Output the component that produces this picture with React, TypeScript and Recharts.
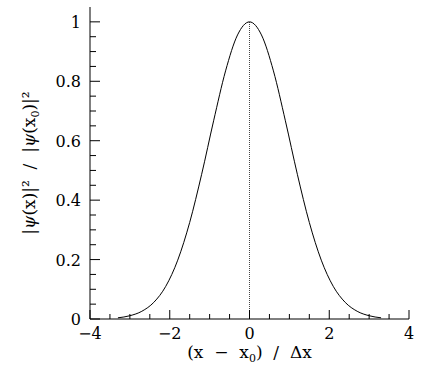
import { LineChart, Line, XAxis, YAxis, ReferenceLine } from 'recharts'

const xPos = [
  -3.3, -3.0, -2.7, -2.4, -2.1, -1.8, -1.5, -1.2, -0.9, -0.6, -0.3, 0,
  0.3, 0.6, 0.9, 1.2, 1.5, 1.8, 2.1, 2.4, 2.7, 3.0, 3.3,
]
// normalised probability density
const density = [
  0.004, 0.011, 0.026, 0.056, 0.11, 0.198, 0.325, 0.487, 0.667, 0.835, 0.956, 1,
  0.956, 0.835, 0.667, 0.487, 0.325, 0.198, 0.11, 0.056, 0.026, 0.011, 0.004,
]

const xTicks = [-4, -3.5, -3, -2.5, -2, -1.5, -1, -0.5, 0, 0.5, 1, 1.5, 2, 2.5, 3, 3.5, 4]
const xMajor = [-4, -2, 0, 2, 4]
const xLabels = ['\u22124', '\u22122', '0', '2', '4']

const yTicks = [
  0, 0.05, 0.1, 0.15, 0.2, 0.25, 0.3, 0.35, 0.4, 0.45, 0.5,
  0.55, 0.6, 0.65, 0.7, 0.75, 0.8, 0.85, 0.9, 0.95, 1,
]
const yMajor = [0, 0.2, 0.4, 0.6, 0.8, 1]
const yLabels = ['0', '0.2', '0.4', '0.6', '0.8', '1']

const data = xPos.map((x, i) => ({ x, p: density[i] }))

const FONT = 'DejaVu Serif'
const near = (a: number, b: number) => Math.abs(a - b) < 1e-6
const majorIdx = (list: number[], v: number) => list.findIndex((m) => near(m, v))

function BottomTick({ x, y, payload }: any) {
  const i = majorIdx(xMajor, payload.value)
  const len = i >= 0 ? 9 : 5
  return (
    <g>
      <line x1={x} x2={x} y1={y} y2={y - len} stroke='#000' />
      {i >= 0 && (
        <text x={x} y={y + 20} textAnchor='middle' fontFamily={FONT} fontSize={16} fill='#000'>
          {xLabels[i]}
        </text>
      )}
    </g>
  )
}

function TopTick({ x, y, payload }: any) {
  const len = majorIdx(xMajor, payload.value) >= 0 ? 9 : 5
  return <line x1={x} x2={x} y1={y} y2={y + len} stroke='#000' />
}

function LeftTick({ x, y, payload }: any) {
  const i = majorIdx(yMajor, payload.value)
  const len = i >= 0 ? 10 : 6
  return (
    <g>
      <line x1={x} x2={x + len} y1={y} y2={y} stroke='#000' />
      {i >= 0 && (
        <text x={x - 9} y={y + 6} textAnchor='end' fontFamily={FONT} fontSize={16} fill='#000'>
          {yLabels[i]}
        </text>
      )}
    </g>
  )
}

function RightTick({ x, y, payload }: any) {
  const len = majorIdx(yMajor, payload.value) >= 0 ? 10 : 6
  return <line x1={x} x2={x - len} y1={y} y2={y} stroke='#000' />
}

const xTitle = () => (
  <text x={249.5} y={358} textAnchor='middle' fontFamily={FONT} fontSize={17} fill='#000' xmlSpace='preserve'>
    (x  {'\u2212'}  x
    <tspan fontSize={11} dy={4}>0</tspan>
    <tspan dy={-4}>)  /  Δx</tspan>
  </text>
)

const yTitle = () => (
  <text
    transform='translate(35,163) rotate(-90)'
    textAnchor='middle'
    fontFamily={FONT}
    fontSize={17}
    fill='#000'
    xmlSpace='preserve'
  >
    |<tspan fontStyle='italic'>ψ</tspan>(x)|²  /  |<tspan fontStyle='italic'>ψ</tspan>(x
    <tspan fontSize={11} dy={4}>0</tspan>
    <tspan dy={-4}>)|²</tspan>
  </text>
)

export default function App() {
  return (
    <div style={{ position: 'absolute', left: 0, top: 0, background: '#fff' }}>
      <LineChart width={432} height={369} data={data} margin={{ top: 7, right: 23, bottom: 0, left: 0 }}>
        <XAxis
          xAxisId='b'
          dataKey='x'
          type='number'
          domain={[-4, 4]}
          ticks={xTicks}
          interval={0}
          tickSize={0}
          tickMargin={0}
          tick={<BottomTick />}
          height={50}
          axisLine={{ stroke: '#000' }}
          label={xTitle}
        />
        <XAxis
          xAxisId='t'
          orientation='top'
          dataKey='x'
          type='number'
          domain={[-4, 4]}
          ticks={xTicks}
          interval={0}
          tickSize={0}
          tickMargin={0}
          tick={<TopTick />}
          height={0}
          axisLine={{ stroke: '#000', strokeWidth: 2 }}
        />
        <YAxis
          yAxisId='l'
          type='number'
          domain={[0, 1.05]}
          ticks={yTicks}
          interval={0}
          tickSize={0}
          tickMargin={0}
          tick={<LeftTick />}
          width={90}
          axisLine={{ stroke: '#000' }}
          label={yTitle}
        />
        <YAxis
          yAxisId='r'
          orientation='right'
          type='number'
          domain={[0, 1.05]}
          ticks={yTicks}
          interval={0}
          tickSize={0}
          tickMargin={0}
          tick={<RightTick />}
          width={0}
          axisLine={{ stroke: '#000' }}
        />
        <ReferenceLine
          xAxisId='b'
          yAxisId='l'
          segment={[{ x: 0, y: 0 }, { x: 0, y: 1 }]}
          stroke='#444'
          strokeDasharray='1 1'
        />
        <Line
          xAxisId='b'
          yAxisId='l'
          dataKey='p'
          type='monotone'
          stroke='#000'
          strokeWidth={1}
          dot={false}
          isAnimationActive={false}
        />
      </LineChart>
    </div>
  )
}
